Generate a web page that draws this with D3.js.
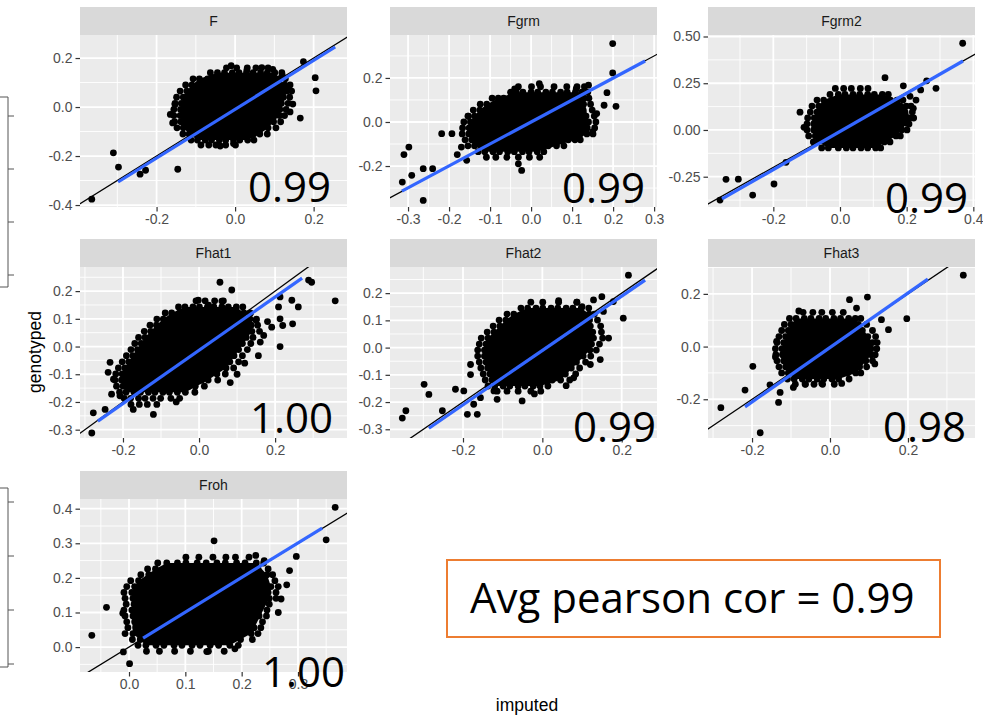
<!DOCTYPE html>
<html><head><meta charset="utf-8">
<script src="https://cdn.jsdelivr.net/npm/d3@7"></script>
<style>body{margin:0;background:#fff}svg{display:block}</style>
</head><body>
<svg id="c" width="983" height="717"></svg>
<script>
// ---------------- DATA ----------------
const panelNames = ["F","Fgrm","Fgrm2","Fhat1","Fhat2","Fhat3","Froh"];
const corrLabels = ["0.99","0.99","0.99","1.00","0.99","0.98","1.00"];
const summaryText = "Avg pearson cor = 0.99";
const xTitle = "imputed";
const yTitle = "genotyped";

// visible axis ranges per panel
const xDomains = [[-0.395,0.285],[-0.344,0.307],[-0.396,0.405],[-0.313,0.389],[-0.384,0.289],[-0.313,0.372],[-0.087,0.387]];
const yDomains = [[-0.408,0.294],[-0.386,0.395],[-0.412,0.508],[-0.33,0.287],[-0.332,0.296],[-0.347,0.302],[-0.072,0.428]];

const xTickValues = [[-0.2,0,0.2],[-0.3,-0.2,-0.1,0,0.1,0.2,0.3],[-0.2,0,0.2,0.4],[-0.2,0,0.2],[-0.2,0,0.2],[-0.2,0,0.2],[0,0.1,0.2,0.3]];
const xTickLabels = [["-0.2","0.0","0.2"],["-0.3","-0.2","-0.1","0.0","0.1","0.2","0.3"],["-0.2","0.0","0.2","0.4"],["-0.2","0.0","0.2"],["-0.2","0.0","0.2"],["-0.2","0.0","0.2"],["0.0","0.1","0.2","0.3"]];
const yTickValues = [[-0.4,-0.2,0,0.2],[-0.2,0,0.2],[-0.25,0,0.25,0.5],[-0.3,-0.2,-0.1,0,0.1,0.2],[-0.3,-0.2,-0.1,0,0.1,0.2],[-0.2,0,0.2],[0,0.1,0.2,0.3,0.4]];
const yTickLabels = [["-0.4","-0.2","0.0","0.2"],["-0.2","0.0","0.2"],["-0.25","0.00","0.25","0.50"],["-0.3","-0.2","-0.1","0.0","0.1","0.2"],["-0.3","-0.2","-0.1","0.0","0.1","0.2"],["-0.2","0.0","0.2"],["0.0","0.1","0.2","0.3","0.4"]];

// fitted (blue) line endpoints [x0,y0,x1,y1]
const fitLines = [[-0.298,-0.306,0.255,0.245],[-0.315,-0.314,0.278,0.277],[-0.354,-0.369,0.369,0.369],[-0.266,-0.269,0.271,0.247],[-0.286,-0.296,0.259,0.248],[-0.218,-0.229,0.251,0.256],[0.025,0.026,0.343,0.344]];

// scatter points, values in thousandths: dense rows [y, [x...]] and loose points [x,y]
const F_rows = [
[160,[-22,4,31,53,84]],
[140,[-63,-45,-27,-7,10,29,46,65,82,101,119]],
[115,[-107,-91,-70,-54,-34,-18,3,19,39,55,75,92,111,128]],
[90,[-126,-110,-90,-74,-54,-37,-17,-1,20,36,56,72,92,108,126,140]],
[65,[-140,-123,-103,-87,-67,-51,-30,-14,6,22,43,59,79,95,115,132,144]],
[40,[-149,-132,-112,-96,-76,-60,-40,-23,-3,13,34,50,70,86,106,123,139]],
[15,[-153,-137,-117,-101,-81,-65,-44,-28,-8,8,29,45,65,81,101,118,135]],
[-10,[-156,-139,-119,-103,-83,-67,-47,-31,-11,5,25,42,62,78,98,114,130]],
[-35,[-156,-140,-120,-104,-84,-68,-48,-32,-12,4,24,41,61,77,97,113,126]],
[-60,[-154,-138,-118,-102,-82,-66,-46,-30,-10,6,26,42,62,78,98,116]],
[-85,[-148,-132,-112,-96,-76,-60,-40,-24,-4,12,32,48,68,84,104]],
[-110,[-133,-117,-97,-81,-61,-45,-25,-9,11,27,47,63,82]],
[-135,[-112,-96,-76,-60,-40,-24,-4,12,32,48]],
[-155,[-87,-67,-49,-24,1]]];
const F_pts = [[-365,-376],[-310,-187],[-297,-245],[-242,-274],[-228,-258],[-146,-254],[174,185],[204,120],[206,66],[147,12],[166,-45],[-38,-159],[-4,-149],[-10,169],[30,151],[68,161],[96,154],[132,73],[-159,-65],[-153,10],[-165,-30],[140,-20],[120,130]];

const Fgrm_rows = [
[160,[-31,1,23,56,87,112,130]],
[135,[-50,-36,-20,0,16,36,52,72,88,108,124,138]],
[108,[-95,-80,-67,-51,-31,-15,5,21,41,57,77,93,113,129,141]],
[81,[-124,-108,-88,-72,-52,-36,-16,0,20,36,56,72,92,108,128,145]],
[54,[-141,-125,-105,-89,-69,-53,-33,-17,3,19,39,55,75,91,111,127,149]],
[27,[-154,-138,-118,-102,-82,-66,-46,-30,-10,6,26,42,62,78,98,114,134,154]],
[0,[-164,-148,-128,-112,-92,-76,-56,-40,-20,-4,16,32,52,68,88,104,124,140,158]],
[-27,[-167,-151,-131,-115,-95,-79,-59,-43,-23,-7,13,29,49,65,85,101,121,137,155]],
[-54,[-168,-152,-132,-116,-96,-80,-60,-44,-24,-8,12,28,48,64,84,100,120,136,151]],
[-81,[-161,-145,-125,-109,-89,-73,-53,-37,-17,-1,19,35,55,71,91,107,120]],
[-108,[-154,-138,-118,-102,-82,-66,-46,-30,-10,6,26,42,62,80]],
[-135,[-129,-113,-93,-77,-57,-41,-21,-5,15,31]],
[-160,[-109,-86,-59,-31,-4,21]]];
const Fgrm_pts = [[-218,-53],[-193,-53],[-180,-148],[-170,-114],[-157,-174],[-314,-273],[-310,-148],[-298,-114],[-291,-242],[-263,-212],[-240,-212],[-263,-356],[-31,-190],[-23,-220],[199,356],[199,223],[185,133],[178,76],[207,71],[140,167],[160,38],[150,-45],[-153,26],[20,174],[-40,150],[110,150]];

const Fgrm2_rows = [
[222,[-14,11,34,61,84]],
[190,[-30,-5,15,39,59,83,103,127,145]],
[160,[-69,-49,-25,-5,19,39,63,83,107,127,151,171,189]],
[128,[-84,-64,-40,-20,4,24,48,68,92,112,136,156,180,199,213]],
[96,[-89,-69,-45,-25,-1,19,43,63,87,107,131,151,175,195,217]],
[64,[-97,-77,-53,-33,-9,11,35,55,79,99,123,143,167,187,209,221]],
[32,[-99,-79,-55,-35,-11,9,33,53,77,97,121,141,165,185,207]],
[0,[-99,-79,-55,-35,-11,9,33,53,77,97,121,141,165,185,201]],
[-32,[-94,-74,-50,-30,-6,14,38,58,82,102,126,146,168,181]],
[-64,[-80,-67,-43,-23,1,21,45,65,89,109,133,150]],
[-96,[-55,-35,-5,19,39,63,83,107,122]]];
const Fgrm2_pts = [[-120,95],[-108,14],[-162,-173],[-198,-289],[-305,-263],[-342,-264],[-262,-348],[-360,-375],[368,464],[260,263],[242,214],[288,223],[220,116],[200,36],[190,236],[135,280],[228,160],[210,180]];

const Fhat1_rows = [
[165,[-8,16,41,64]],
[143,[-54,-37,-16,1,22,39,60,77,98,115]],
[121,[-89,-72,-51,-34,-13,4,25,42,63,80,101,118,134]],
[99,[-111,-94,-73,-56,-35,-18,3,20,41,58,79,96,117,134,151]],
[77,[-129,-112,-91,-74,-53,-36,-15,2,23,40,61,78,99,116,137,154]],
[55,[-144,-127,-106,-89,-68,-51,-30,-13,8,25,46,63,84,101,122,139,159]],
[33,[-159,-142,-121,-104,-83,-66,-45,-28,-7,10,31,48,69,86,107,124,142]],
[11,[-169,-152,-131,-114,-93,-76,-55,-38,-17,0,21,38,59,76,97,114,136]],
[-11,[-179,-162,-141,-124,-103,-86,-65,-48,-27,-10,11,28,49,66,87,104,127]],
[-33,[-191,-174,-153,-136,-115,-98,-77,-60,-39,-22,-1,16,37,54,75,92,114]],
[-55,[-202,-185,-164,-147,-126,-109,-88,-71,-50,-33,-12,5,26,43,64,81,104]],
[-77,[-212,-195,-174,-157,-136,-119,-98,-81,-60,-43,-22,-5,16,33,54,71,91]],
[-99,[-219,-202,-181,-164,-143,-126,-105,-88,-67,-50,-29,-12,9,26,47,69]],
[-121,[-221,-204,-183,-166,-145,-128,-107,-90,-69,-52,-31,-14,7,24,49]],
[-143,[-217,-200,-179,-162,-141,-124,-103,-86,-65,-48,-27,-10,14]],
[-165,[-209,-192,-171,-154,-133,-116,-95,-78,-57,-36,-11]],
[-187,[-197,-180,-159,-142,-121,-101,-74,-51]],
[-209,[-179,-157,-136,-111]]];
const Fhat1_pts = [[55,232],[86,204],[-2,167],[25,149],[60,164],[213,179],[244,167],[261,143],[209,143],[213,100],[220,76],[246,82],[191,70],[213,0],[156,-33],[161,16],[288,240],[296,232],[358,165],[82,-130],[-120,-245],[-173,-227],[-278,-239],[-282,-312],[-247,-227],[-234,-57],[-239,-93],[-225,-118],[-230,-172],[-208,-178],[135,120],[150,95],[180,90],[120,-60],[100,-100],[170,40],[-60,-200]];

const Fhat2_rows = [
[167,[-29,1,41,87]],
[145,[-54,-37,-16,1,22,39,60,77,98,117]],
[123,[-89,-72,-51,-34,-13,4,25,42,63,80,101,118,131]],
[101,[-109,-92,-71,-54,-33,-16,5,22,43,60,81,98,119,139]],
[79,[-124,-107,-86,-69,-48,-31,-10,7,28,45,66,83,104,121,147]],
[57,[-139,-122,-101,-84,-63,-46,-25,-8,13,30,51,68,89,106,127,149]],
[35,[-154,-137,-116,-99,-78,-61,-40,-23,-2,15,36,53,74,91,112,129,152]],
[13,[-159,-142,-121,-104,-83,-66,-45,-28,-7,10,31,48,69,86,107,124,144]],
[-9,[-163,-146,-125,-108,-87,-70,-49,-32,-11,6,27,44,65,82,103,120,136]],
[-31,[-163,-146,-125,-108,-87,-70,-49,-32,-11,6,27,44,65,82,103,122]],
[-53,[-159,-142,-121,-104,-83,-66,-45,-28,-7,10,31,48,69,86,109]],
[-75,[-155,-138,-117,-100,-79,-62,-41,-24,-3,14,35,52,73,94]],
[-97,[-149,-132,-111,-94,-73,-56,-35,-18,3,20,41,58,84]],
[-119,[-144,-127,-106,-89,-68,-51,-30,-13,8,25,46,69]],
[-141,[-137,-120,-99,-82,-61,-44,-23,-6,14]],
[-160,[-114,-89,-61,-29,-4]]];
const Fhat2_pts = [[217,266],[204,108],[179,169],[150,187],[129,175],[154,133],[167,35],[146,-44],[121,-62],[79,-111],[-51,-196],[-181,-62],[-181,-99],[-219,-153],[-198,-159],[-298,-135],[-286,-172],[-252,-232],[-189,-245],[-164,-245],[-173,-208],[-344,-232],[-353,-259],[-156,-184],[-122,-159],[-114,-190],[41,172],[87,167],[-20,-170],[60,-140],[100,150]];

const Fhat3_rows = [
[130,[-69,-44,-21,6,34]],
[107,[-104,-87,-66,-49,-28,-11,10,27,48,65,79]],
[84,[-117,-100,-79,-62,-41,-24,-3,14,35,52,73,94]],
[61,[-124,-107,-86,-69,-48,-31,-10,7,28,45,66,83,109]],
[38,[-131,-114,-93,-76,-55,-38,-17,0,21,38,59,76,97,117]],
[15,[-136,-119,-98,-81,-60,-43,-22,-5,16,33,54,71,92,109,121]],
[-8,[-140,-123,-102,-85,-64,-47,-26,-9,12,29,50,67,88,105,120]],
[-31,[-139,-122,-101,-84,-63,-46,-25,-8,13,30,51,68,89,106,116]],
[-54,[-136,-119,-98,-81,-60,-43,-22,-5,16,33,54,71,92,109]],
[-77,[-131,-114,-93,-76,-55,-38,-17,0,21,38,59,76,94]],
[-100,[-124,-107,-86,-69,-48,-31,-10,7,28,45,66,79]],
[-123,[-109,-92,-71,-54,-33,-16,5,22,49]],
[-143,[-89,-63,-41,-19,11]]];
const Fhat3_pts = [[342,271],[197,106],[150,64],[132,102],[96,188],[50,178],[68,146],[115,-66],[-198,-75],[-218,-165],[-280,-232],[-179,-327],[-154,-145],[-128,-174],[-132,-212],[-94,-155],[-64,-142],[-21,-140],[30,-140],[-80,135],[-137,20],[-140,-40]];

const Froh_rows = [
[260,[101,124,149,172,189,213]],
[243,[51,67,86,101,121,137,156,171,191,206,226,239]],
[226,[33,47,65,79,98,112,131,145,164,178,197,211,229,247]],
[209,[21,35,53,67,85,99,117,131,149,163,181,195,213,227,245,255]],
[192,[3,17,35,49,67,81,99,113,145,163,177,195,209,227,241,259]],
[175,[-4,10,28,42,60,74,92,106,124,138,156,170,188,202,220,234,252,265]],
[158,[-9,5,23,37,55,69,101,119,133,151,165,183,197,215,229,247,261]],
[141,[-7,7,25,39,57,71,89,103,121,135,153,167,185,199,217,231,249,261]],
[124,[-5,9,27,41,59,73,91,105,123,137,169,187,201,219,233,249]],
[107,[-9,5,23,37,55,69,87,101,119,133,151,165,183,197,215,229,245]],
[90,[-7,7,25,57,71,89,103,121,135,153,167,185,217,231,244]],
[73,[-4,10,28,42,60,74,92,106,124,138,156,170,188,202,220,237]],
[56,[-2,12,30,44,62,76,94,126,140,158,172,190,204,222,234]],
[39,[-7,7,25,39,57,71,89,103,121,135,153,185,199,217,229]],
[22,[6,20,38,52,70,84,102,116,134,148,166,180,198,219]],
[5,[16,30,48,62,80,94,112,126,144,159,179,194]],
[-12,[31,54,81,109,141,169]]];
const Froh_pts = [[366,404],[350,310],[297,262],[285,221],[270,139],[-40,115],[-66,34],[-10,-14],[1,-48],[151,307],[138,-13],[188,-5],[-11,98],[265,100],[240,250],[225,265],[280,180]];

const denseRows = [F_rows,Fgrm_rows,Fgrm2_rows,Fhat1_rows,Fhat2_rows,Fhat3_rows,Froh_rows];
const loosePts = [F_pts,Fgrm_pts,Fgrm2_pts,Fhat1_pts,Fhat2_pts,Fhat3_pts,Froh_pts];

// ---------------- LAYOUT ----------------
const colX = [[80,347],[390,657],[708,975]];
const rowY = [[35,207],[267,438],[499,672]];
const stripH = 28;
const corrPos = [[248,202],[562,203],[885,213],[250,433],[573,442],[883,442],[262,687]];
const tickFont = "'Liberation Sans', Arial, sans-serif";
const bigFont = "'Open Sans', sans-serif";
const R = 3.4;

const svg = d3.select("#c");
svg.append("rect").attr("width",983).attr("height",717).attr("fill","#fff");

// leftover slide brackets at the left edge
[[97,287,[116,169,222,275]],[488,667,[502,556,610,664]]].forEach(([t,b,ticks])=>{
  let p = `M0,${t}H8V${b}H0`;
  ticks.forEach(y=>{ p += `M8,${y}H14`; });
  svg.append("path").attr("d",p).attr("fill","none").attr("stroke","#555").attr("stroke-width",1);
});

const defs = svg.append("defs");

panelNames.forEach((name,i)=>{
  const c = i%3, r = Math.floor(i/3);
  const [x0,x1] = colX[c], [y0,y1] = rowY[r];
  const xs = d3.scaleLinear().domain(xDomains[i]).range([x0,x1]);
  const ys = d3.scaleLinear().domain(yDomains[i]).range([y1,y0]);
  const g = svg.append("g");

  // strip
  g.append("rect").attr("x",x0).attr("y",y0-stripH).attr("width",x1-x0).attr("height",stripH).attr("fill","#d9d9d9");
  g.append("text").attr("x",(x0+x1)/2).attr("y",y0-stripH/2).attr("dy","0.36em")
    .attr("text-anchor","middle").attr("font-family",tickFont).attr("font-size",14).attr("fill","#1a1a1a").text(name);

  // panel
  g.append("rect").attr("x",x0).attr("y",y0).attr("width",x1-x0).attr("height",y1-y0).attr("fill","#ebebeb");

  const minors = (t,dom)=>{
    const s = t[1]-t[0], out=[t[0]-s/2];
    for(let k=0;k<t.length;k++) out.push(t[k]+s/2);
    return out.filter(v=>v>dom[0]&&v<dom[1]);
  };
  const grid = g.append("g").attr("stroke","#fff");
  minors(xTickValues[i],xDomains[i]).forEach(v=>grid.append("line").attr("x1",xs(v)).attr("x2",xs(v)).attr("y1",y0).attr("y2",y1).attr("stroke-width",0.9));
  minors(yTickValues[i],yDomains[i]).forEach(v=>grid.append("line").attr("y1",ys(v)).attr("y2",ys(v)).attr("x1",x0).attr("x2",x1).attr("stroke-width",0.9));
  xTickValues[i].forEach(v=>grid.append("line").attr("x1",xs(v)).attr("x2",xs(v)).attr("y1",y0).attr("y2",y1).attr("stroke-width",1.8));
  yTickValues[i].forEach(v=>grid.append("line").attr("y1",ys(v)).attr("y2",ys(v)).attr("x1",x0).attr("x2",x1).attr("stroke-width",1.8));

  defs.append("clipPath").attr("id","clip"+i).append("rect").attr("x",x0).attr("y",y0).attr("width",x1-x0).attr("height",y1-y0);
  const pg = g.append("g").attr("clip-path",`url(#clip${i})`);

  const pts = [];
  denseRows[i].forEach(([yv,xl])=>xl.forEach(xv=>pts.push([xv/1000,yv/1000])));
  // overplotted core: filled hull of the inner points of the well-populated rows
  const core = [];
  denseRows[i].filter(([yv,xl])=>xl.length>=9).forEach(([yv,xl])=>xl.slice(1,-1).forEach(xv=>core.push([xs(xv/1000),ys(yv/1000)])));
  const hull = d3.polygonHull(core);
  if (hull) pg.append("path").attr("d","M"+hull.map(p=>p.join(",")).join("L")+"Z").attr("fill","#000");

  loosePts[i].forEach(([xv,yv])=>pts.push([xv/1000,yv/1000]));
  pg.append("g").selectAll("circle").data(pts).join("circle")
    .attr("cx",d=>xs(d[0])).attr("cy",d=>ys(d[1])).attr("r",R).attr("fill","#000");

  // identity line
  const dmin = Math.min(xDomains[i][0],yDomains[i][0]), dmax = Math.max(xDomains[i][1],yDomains[i][1]);
  pg.append("line").attr("x1",xs(dmin)).attr("y1",ys(dmin)).attr("x2",xs(dmax)).attr("y2",ys(dmax))
    .attr("stroke","#000").attr("stroke-width",1.3);

  // fitted line
  const f = fitLines[i];
  pg.append("line").attr("x1",xs(f[0])).attr("y1",ys(f[1])).attr("x2",xs(f[2])).attr("y2",ys(f[3]))
    .attr("stroke","#3366FF").attr("stroke-width",3.2);

  // axes
  const ax = g.append("g").attr("transform",`translate(0,${y1})`)
    .call(d3.axisBottom(xs).tickValues(xTickValues[i]).tickFormat((d,k)=>xTickLabels[i][k]).tickSize(4.5).tickPadding(3));
  const ay = g.append("g").attr("transform",`translate(${x0},0)`)
    .call(d3.axisLeft(ys).tickValues(yTickValues[i]).tickFormat((d,k)=>yTickLabels[i][k]).tickSize(4.5).tickPadding(3));
  [ax,ay].forEach(a=>{
    a.select(".domain").remove();
    a.selectAll(".tick line").attr("stroke","#333").attr("stroke-width",1.2);
    a.selectAll(".tick text").attr("fill","#4d4d4d").attr("font-size",14).attr("font-family",tickFont);
  });
});

// big correlation numbers
panelNames.forEach((name,i)=>{
  svg.append("text").attr("x",corrPos[i][0]).attr("y",corrPos[i][1])
    .attr("font-family",bigFont).attr("font-size",42).attr("fill","#000").text(corrLabels[i]);
});

// axis titles
svg.append("text").attr("x",527).attr("y",711).attr("text-anchor","middle")
  .attr("font-family",tickFont).attr("font-size",17.5).attr("fill","#000").text(xTitle);
svg.append("text").attr("transform","translate(41,352) rotate(-90)").attr("text-anchor","middle")
  .attr("font-family",tickFont).attr("font-size",17.5).attr("fill","#000").text(yTitle);

// summary box
svg.append("rect").attr("x",447).attr("y",560).attr("width",493).attr("height",77)
  .attr("fill","#fff").attr("stroke","#ED7D31").attr("stroke-width",2);
svg.append("text").attr("x",470).attr("y",613).attr("font-family",bigFont).attr("font-size",42)
  .attr("fill","#000").text(summaryText);
</script>
</body></html>
